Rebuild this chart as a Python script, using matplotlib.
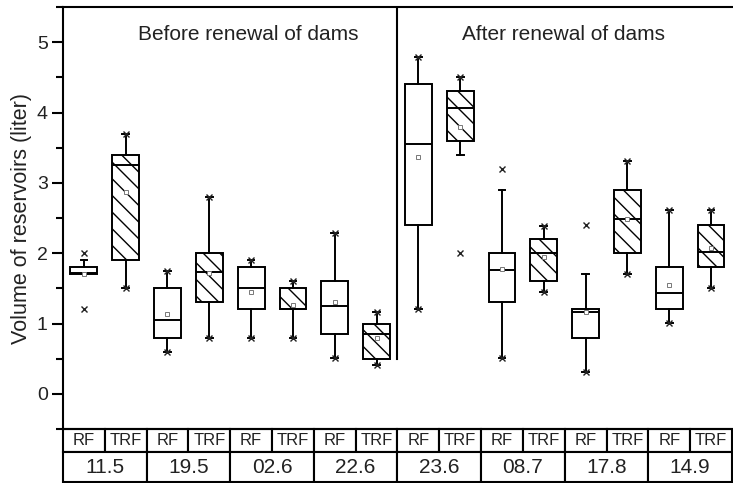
import matplotlib
matplotlib.use("Agg")
import matplotlib.pyplot as plt
from matplotlib.ticker import MultipleLocator

plt.rcParams['font.family'] = ['Liberation Sans', 'DejaVu Sans']
plt.rcParams['hatch.linewidth'] = 1.0

dates = ['11.5', '19.5', '02.6', '22.6', '23.6', '08.7', '17.8', '14.9']
kinds = ['RF', 'TRF']

# RF boxes
rf_q1 = [1.70, 0.80, 1.20, 0.85, 2.40, 1.31, 0.80, 1.20]
rf_med = [1.72, 1.05, 1.50, 1.25, 3.55, 1.76, 1.16, 1.43]
rf_q3 = [1.81, 1.50, 1.80, 1.60, 4.40, 2.00, 1.20, 1.80]
rf_wlo = [1.70, 0.60, 0.80, 0.51, 1.21, 0.51, 0.31, 1.01]
rf_whi = [1.90, 1.74, 1.90, 2.29, 4.79, 2.90, 1.70, 2.61]
rf_mean = [1.71, 1.13, 1.45, 1.30, 3.37, 1.77, 1.16, 1.55]
rf_min = [1.20, 0.60, 0.80, 0.51, 1.21, 0.51, 0.31, 1.01]
rf_max = [2.00, 1.74, 1.90, 2.29, 4.79, 3.20, 2.40, 2.61]

# TRF boxes
trf_q1 = [1.90, 1.31, 1.20, 0.50, 3.60, 1.60, 2.00, 1.80]
trf_med = [3.25, 1.73, 1.21, 0.85, 4.06, 2.00, 2.48, 2.02]
trf_q3 = [3.40, 2.00, 1.50, 1.00, 4.30, 2.20, 2.90, 2.40]
trf_wlo = [1.50, 0.80, 0.80, 0.41, 3.40, 1.45, 1.70, 1.50]
trf_whi = [3.70, 2.80, 1.60, 1.16, 4.50, 2.39, 3.31, 2.61]
trf_mean = [2.87, 1.72, 1.27, 0.79, 3.80, 1.95, 2.48, 2.07]
trf_min = [1.50, 0.80, 0.80, 0.41, 2.00, 1.45, 1.70, 1.50]
trf_max = [3.70, 2.80, 1.60, 1.16, 4.50, 2.39, 3.31, 2.61]


def make_stats(q1, med, q3, wlo, whi, mean, mn, mx):
    return [dict(q1=a, med=b, q3=c, whislo=d, whishi=e, mean=f, fliers=[g, h])
            for a, b, c, d, e, f, g, h in zip(q1, med, q3, wlo, whi, mean, mn, mx)]


rf_stats = make_stats(rf_q1, rf_med, rf_q3, rf_wlo, rf_whi, rf_mean, rf_min, rf_max)
trf_stats = make_stats(trf_q1, trf_med, trf_q3, trf_wlo, trf_whi, trf_mean, trf_min, trf_max)

fig = plt.figure(figsize=(7.33, 4.83), dpi=100)
ax = fig.add_axes([0.0859, 0.1118, 0.9127, 0.8737])

common = dict(
    widths=0.64, capwidths=0.16, showmeans=True, patch_artist=True,
    boxprops=dict(edgecolor='black', linewidth=1.4),
    medianprops=dict(color='black', linewidth=1.4),
    whiskerprops=dict(color='black', linewidth=1.4),
    capprops=dict(color='black', linewidth=1.4),
    meanprops=dict(marker='s', markersize=3.5, markerfacecolor='white',
                   markeredgecolor='#777777', markeredgewidth=0.7),
    flierprops=dict(marker='x', markersize=5, markeredgecolor='#222222',
                    markeredgewidth=1.0),
)

n = len(dates)
rf_pos = [2 * i + 0.5 for i in range(n)]
trf_pos = [2 * i + 1.5 for i in range(n)]

b1 = ax.bxp(rf_stats, positions=rf_pos, **common)
for p in b1['boxes']:
    p.set_facecolor('white')
b2 = ax.bxp(trf_stats, positions=trf_pos, **common)
for p in b2['boxes']:
    p.set_facecolor('white')
    p.set_hatch('\\\\')

ax.set_xlim(0, 2 * n)
ax.set_ylim(-0.5, 5.5)
ax.set_xticks([])
ax.yaxis.set_major_locator(MultipleLocator(1))
ax.yaxis.set_minor_locator(MultipleLocator(0.5))
ax.tick_params(axis='y', which='major', length=8, width=1.5, labelsize=14,
               pad=3, labelcolor='#222222')
ax.tick_params(axis='y', which='minor', length=5, width=1.5)
for s in ['left', 'top', 'bottom']:
    ax.spines[s].set_linewidth(1.5)
ax.spines['right'].set_visible(False)

ax.set_ylabel('Volume of reservoirs (liter)', fontsize=15.5, color='#222222')
ax.yaxis.set_label_coords(-0.047, 0.5)

# divider between periods
ax.plot([n, n], [0.5, 5.5], color='black', linewidth=1.5)
ax.text(4.43, 5.11, 'Before renewal of dams', fontsize=15, ha='center', va='center', color='#222222')
ax.text(11.97, 5.11, 'After renewal of dams', fontsize=15, ha='center', va='center', color='#222222')

# table under the axis
t1 = ax.table(cellText=[kinds * n], cellLoc='center',
              bbox=[0, -0.0545, 1, 0.0545])
t1.auto_set_font_size(False)
t1.set_fontsize(12)
t2 = ax.table(cellText=[dates], cellLoc='center',
              bbox=[0, -0.1256, 1, 0.0711])
t2.auto_set_font_size(False)
t2.set_fontsize(15)
for t in (t1, t2):
    for c in t.get_celld().values():
        c.set_linewidth(1.5)
        c.set_edgecolor('black')
        c.get_text().set_color('#222222')

fig.savefig('out.png', dpi=100)
